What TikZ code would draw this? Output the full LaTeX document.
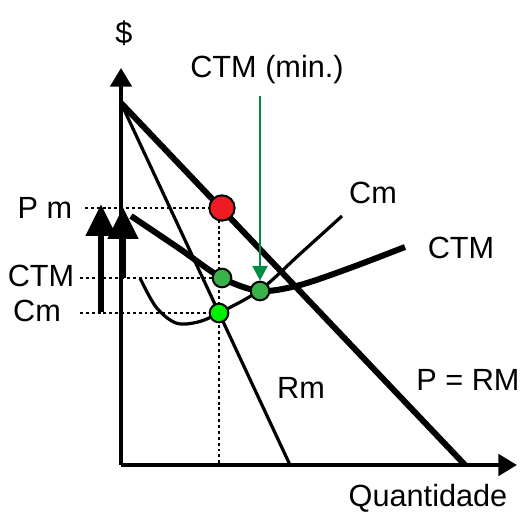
\documentclass[tikz,border=0pt]{standalone}
\usepackage{fontspec}
\setmainfont{Liberation Sans}
\usetikzlibrary{arrows.meta}
\definecolor{ptred}{RGB}{236,28,36}
\definecolor{ptgreen}{RGB}{58,178,74}
\definecolor{ptlime}{RGB}{0,240,0}
\definecolor{arrgreen}{RGB}{0,140,70}
\tikzset{
  lbl/.style={font=\fontsize{23}{27}\selectfont, inner sep=0pt},
  dot/.style={circle, draw=black, line width=1.5pt, minimum size=14pt, inner sep=0pt},
  guide/.style={line width=1.6pt, dotted, dash pattern=on 2.2pt off 2.2pt},
  bigarrow/.style={line width=5pt, -{Triangle[length=24pt,width=22pt]}},
  axisline/.style={line width=3pt, -{Triangle[length=14pt,width=16pt]}},
}
\begin{document}
\begin{tikzpicture}[x=0.75pt,y=-0.75pt]
\useasboundingbox (0,0) rectangle (522,513);
% coordinates
\coordinate (O) at (121,465);
\coordinate (Ytop) at (121,68);
\coordinate (Xend) at (517,465);
\coordinate (D0) at (121,103);
\coordinate (D1) at (465,465);
\coordinate (R1) at (290,465);
\coordinate (F) at (219,465);
% guides
\draw[guide] (85,208) -- (210,208);
\draw[guide] (80,278) -- (212,278);
\draw[guide] (80,313) -- (208,313);
\draw[guide] (219,208) -- (F);
% axes
\draw[axisline] (O) -- (Ytop);
\draw[axisline] (O) -- (Xend);
% demand and Rm
\draw[line width=4.5pt] (D0) -- (D1);
\draw[line width=2.4pt] (D0) -- (R1);
% CTM curve
\draw[line width=4.5pt, line join=round] plot[smooth, tension=0.5] coordinates {(131,216) (180,249) (222,278) (260,291) (300,285) (350,268) (405,247)};
% Cm curve
\draw[line width=2.4pt] plot[smooth, tension=0.55] coordinates {(140,278) (156,307) (176,323) (198,322) (219,313) (260,290) (300,254) (342,216)};
% big arrows
\draw[bigarrow] (101,312) -- (101,204);
\draw[bigarrow] (123,278) -- (123,207);
% points
\node[dot, fill=ptred, minimum size=19pt] (pm) at (222,208) {};
\node[dot, fill=ptgreen] (ctm) at (222,278) {};
\node[dot, fill=ptgreen] (ctmmin) at (260,291) {};
\node[dot, fill=ptlime] (cm) at (219,313) {};
% green arrow
\coordinate (gtop) at (260,96);
\draw[arrgreen, line width=2pt, -{Triangle[length=11pt,width=11pt]}] (gtop) -- (ctmmin.north);
% labels
\node[lbl] (dollar) at (124,33) {\$};
\node[lbl] (quant) at (428,498) {Quantidade};
\node[lbl] (ctmmintxt) at (267,70) {CTM (min.)};
\node[lbl] (pmtxt) at (45,208) {P m};
\node[lbl] (ctmtxt) at (41,276) {CTM};
\node[lbl] (cmtxt) at (37,311) {Cm};
\node[lbl] (cmcurve) at (373,193) {Cm};
\node[lbl] (ctmcurve) at (461,248) {CTM};
\node[lbl] (rmtxt) at (301,388) {Rm};
\node[lbl] (prm) at (468,380) {P = RM};
\end{tikzpicture}
\end{document}
